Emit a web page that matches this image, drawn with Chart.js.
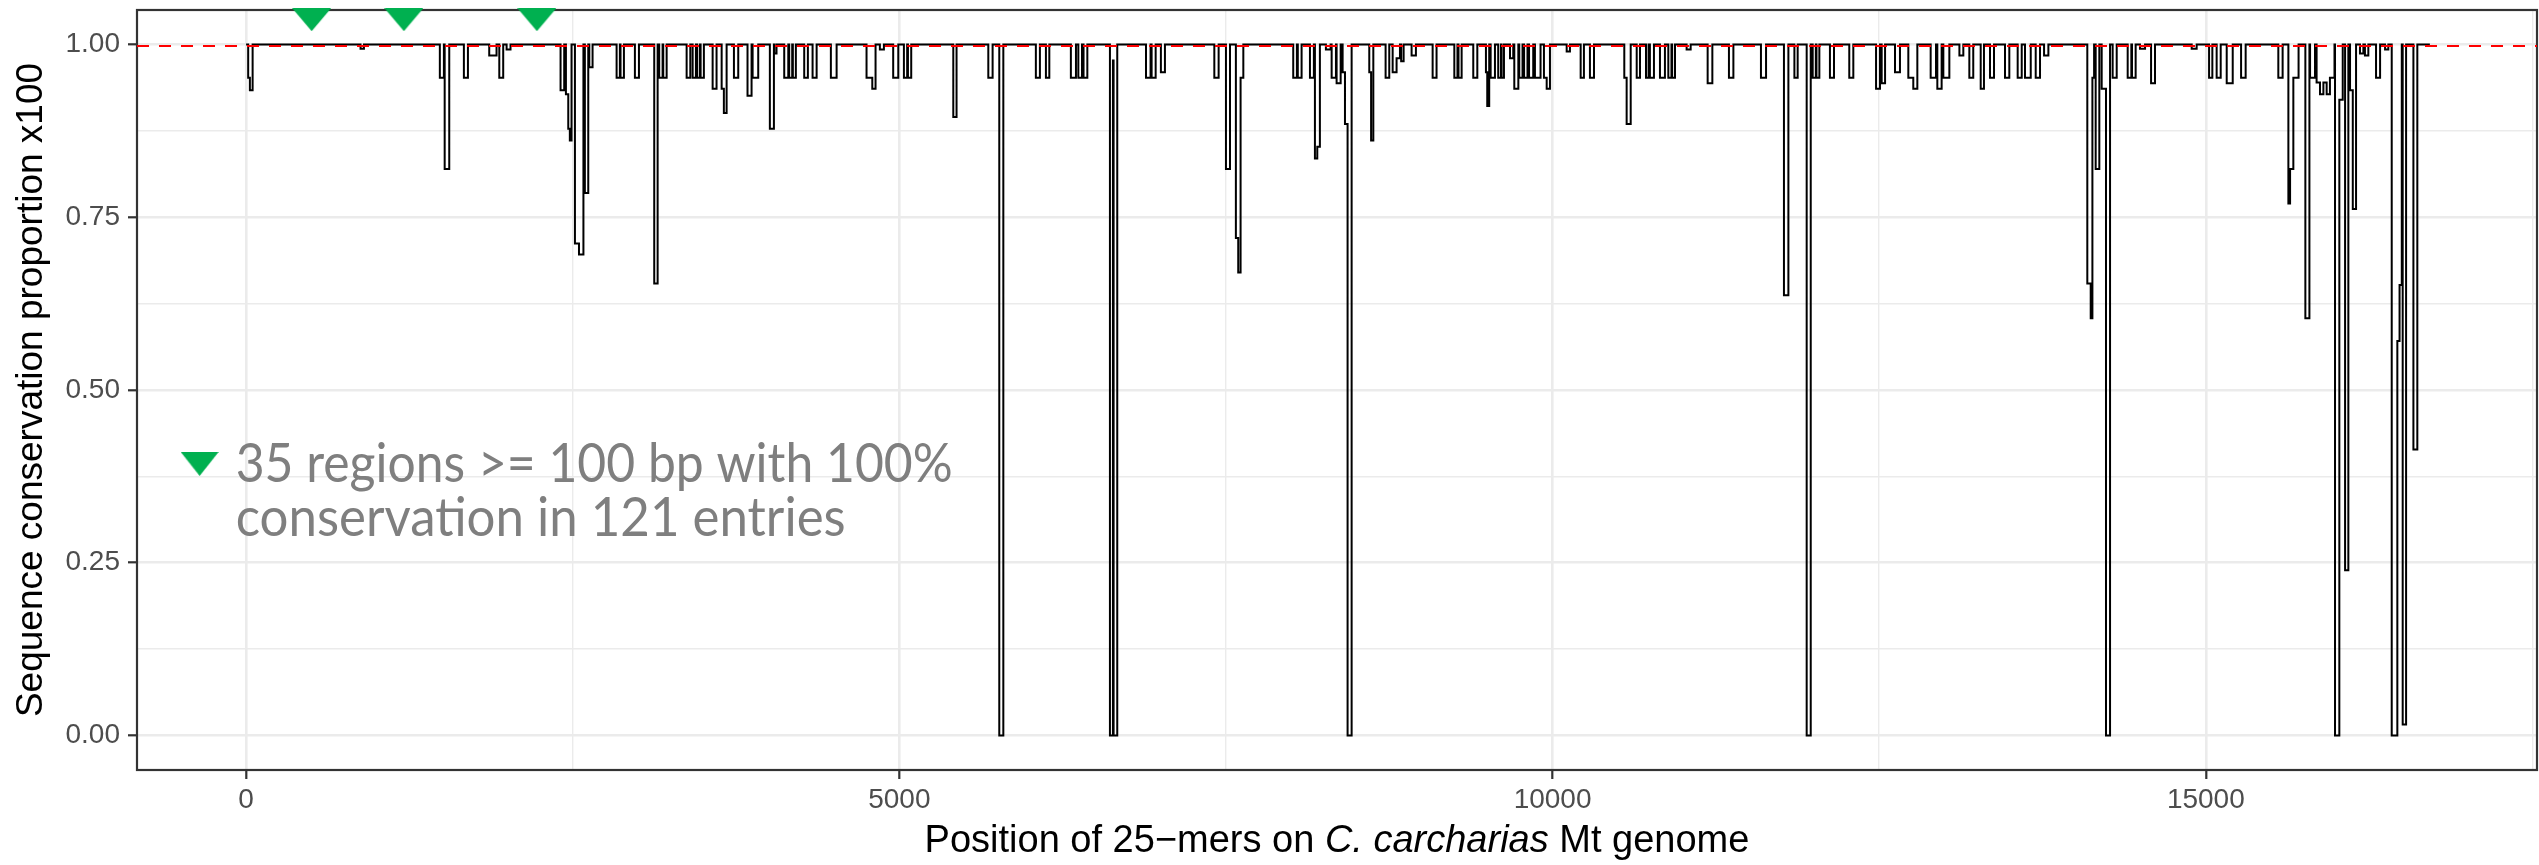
<!DOCTYPE html>
<html>
<head>
<meta charset="utf-8">
<script src="https://cdn.jsdelivr.net/npm/chart.js@4.4.1/dist/chart.umd.min.js"></script>
<style>
  html, body { margin: 0; padding: 0; background: #fff; }
  #wrap { width: 2539px; height: 865px; }
</style>
</head>
<body>
<div id="wrap"><canvas id="chart" width="2539" height="865"></canvas></div>
<script>
/* --------- データ --------- */
// 配列の範囲（bp）
const seqStart = 0;
const seqEnd = 16715;
// 保存率が1.0（100%）のときの値
const fullValue = 1;
// 赤い破線（保存率100%）の位置
const thresholdY = 0.998;

// 保存率が下がる区間：開始位置・終了位置・値
const dipStart = [
  16, 29, 876, 1483, 1520, 1667, 1861, 1938, 1994, 2407, 2448, 2466, 2478, 2517, 2548, 2593, 2627,
  2836, 2866, 2976, 3124, 3162, 3193, 3372, 3418, 3453, 3479, 3571, 3640, 3657, 3734, 3838, 3877,
  4009, 4043, 4119, 4157, 4185, 4272, 4336, 4476, 4749, 4793, 4851, 4953, 5035, 5066, 5413, 5681,
  5765, 6045, 6122, 6313, 6370, 6410, 6612, 6635, 6640, 6888, 6931, 7002, 7411, 7500, 7576, 7594,
  7612, 8015, 8050, 8143, 8181, 8199, 8265, 8309, 8347, 8393, 8411, 8431, 8597, 8611, 8722, 8776,
  8806, 8841, 8921, 9082, 9248, 9280, 9393, 9490, 9500, 9526, 9584, 9610, 9674, 9707, 9745, 9782,
  9820, 9865, 9934, 9955, 10108, 10215, 10286, 10549, 10567, 10644, 10715, 10745, 10822, 10886,
  10915, 11026, 11187, 11350, 11595, 11771, 11851, 11945, 11991, 12020, 12123, 12271, 12476, 12519,
  12621, 12723, 12761, 12894, 12945, 12991, 13114, 13190, 13277, 13348, 13463, 13560, 13616, 13698,
  13762, 14093, 14119, 14132, 14157, 14203, 14236, 14287, 14402, 14435, 14496, 14581, 14892, 15025,
  15083, 15160, 15270, 15555, 15632, 15645, 15670, 15762, 15798, 15848, 15874, 15900, 15925, 15950,
  15989, 16022, 16066, 16104, 16125, 16180, 16218, 16303, 16372, 16423, 16466, 16483, 16507, 16589,
];
const dipEnd = [
  29, 50, 902, 1514, 1555, 1698, 1917, 1968, 2024, 2435, 2466, 2478, 2491, 2548, 2582, 2619, 2652,
  2861, 2892, 3007, 3150, 3188, 3219, 3400, 3443, 3474, 3504, 3601, 3657, 3678, 3767, 3869, 3920,
  4040, 4060, 4150, 4180, 4208, 4300, 4367, 4520, 4793, 4818, 4882, 4992, 5060, 5091, 5438, 5714,
  5796, 6076, 6148, 6352, 6398, 6439, 6635, 6640, 6668, 6923, 6962, 7033, 7444, 7531, 7594, 7612,
  7633, 8043, 8079, 8173, 8199, 8219, 8301, 8342, 8378, 8411, 8431, 8462, 8611, 8628, 8750, 8806,
  8832, 8860, 8954, 9112, 9272, 9304, 9424, 9500, 9515, 9559, 9605, 9628, 9699, 9738, 9770, 9808,
  9852, 9908, 9955, 9980, 10133, 10240, 10317, 10567, 10598, 10669, 10735, 10776, 10860, 10910,
  10937, 11057, 11223, 11384, 11634, 11805, 11876, 11976, 12015, 12042, 12154, 12302, 12506, 12545,
  12659, 12761, 12792, 12935, 12978, 13037, 13144, 13220, 13302, 13379, 13496, 13591, 13660, 13731,
  13795, 14119, 14132, 14145, 14185, 14236, 14267, 14318, 14430, 14463, 14535, 14611, 14930, 15050,
  15114, 15206, 15305, 15588, 15645, 15670, 15710, 15793, 15836, 15874, 15900, 15925, 15950, 15985,
  16022, 16048, 16091, 16125, 16150, 16206, 16244, 16334, 16397, 16466, 16483, 16500, 16533, 16619,
];
const dipValue = [
  0.952, 0.934, 0.994, 0.952, 0.82, 0.952, 0.984, 0.952, 0.993, 0.934, 0.928, 0.878, 0.861, 0.712, 0.696, 0.785, 0.967,
  0.952, 0.952, 0.952, 0.654, 0.952, 0.952, 0.952, 0.952, 0.952, 0.952, 0.936, 0.936, 0.901, 0.952, 0.926, 0.952,
  0.878, 0.987, 0.952, 0.952, 0.952, 0.952, 0.952, 0.952, 0.952, 0.936, 0.993, 0.952, 0.952, 0.952, 0.895, 0.952,
  0, 0.952, 0.952, 0.952, 0.952, 0.952, 0, 0.977, 0, 0.952, 0.952, 0.96, 0.952, 0.82, 0.72, 0.67,
  0.952, 0.952, 0.952, 0.952, 0.835, 0.852, 0.993, 0.952, 0.944, 0.96, 0.885, 0, 0.96, 0.861, 0.952, 0.96,
  0.98, 0.976, 0.984, 0.952, 0.952, 0.952, 0.952, 0.96, 0.911, 0.952, 0.952, 0.952, 0.98, 0.936, 0.952, 0.952,
  0.952, 0.952, 0.952, 0.936, 0.99, 0.952, 0.952, 0.952, 0.885, 0.952, 0.952, 0.952, 0.952, 0.952,
  0.952, 0.993, 0.944, 0.952, 0.952, 0.637, 0.952, 0, 0.952, 0.952, 0.952, 0.952, 0.936, 0.944,
  0.96, 0.952, 0.936, 0.952, 0.936, 0.952, 0.984, 0.952, 0.936, 0.952, 0.952, 0.952, 0.952, 0.952,
  0.984, 0.654, 0.604, 0.952, 0.82, 0.936, 0, 0.952, 0.952, 0.952, 0.994, 0.944, 0.994, 0.952,
  0.952, 0.944, 0.952, 0.952, 0.77, 0.82, 0.952, 0.604, 0.952, 0.945, 0.928, 0.945, 0.928, 0.952,
  0, 0.92, 0.239, 0.934, 0.762, 0.987, 0.984, 0.952, 0.993, 0, 0.571, 0.652, 0.016, 0.414,
];

// 100%保存領域のマーカー（上部の緑の三角）
const regionX = [502, 1208, 2226];
const regionY = [1.036, 1.036, 1.036];

// 軸の範囲と目盛り
const xMin = -835;
const xMax = 17535;
const yMin = -0.05;
const yMax = 1.05;
const xTickValues = [0, 2500, 5000, 7500, 10000, 12500, 15000, 17500];
const xTickLabels = ["0", "", "5000", "", "10000", "", "15000", ""];
const yTickValues = [0, 0.125, 0.25, 0.375, 0.5, 0.625, 0.75, 0.875, 1];
const yTickLabels = ["0.00", "", "0.25", "", "0.50", "", "0.75", "", "1.00"];

// 注釈テキスト
const noteLines = ["35 regions >= 100 bp with 100%", "conservation in 121 entries"];
const noteX = -80;
const noteY = 0.367;

/* --------- スタイル --------- */
const baseFont = "'Liberation Sans', Arial, Helvetica, sans-serif";
const gridColor = "#EBEBEB";
const frameColor = "#333333";
const markerColor = "#00B050";
// 注釈の各行の幅（px）
const noteWidths = [717, 610];

/* --------- ヘルパー --------- */
// 区間データから階段状の点列を作る
function buildSteps() {
  const pts = [];
  let prevEnd = seqStart;
  dipStart.forEach((s, i) => {
    if (s > prevEnd) pts.push({ x: prevEnd, y: fullValue });
    pts.push({ x: s, y: dipValue[i] });
    prevEnd = dipEnd[i];
  });
  pts.push({ x: prevEnd, y: fullValue });
  pts.push({ x: seqEnd, y: fullValue });
  return pts;
}

// 下向きの三角マーカー
function makeTriangle(w, h, color) {
  const c = document.createElement("canvas");
  c.width = w;
  c.height = h;
  const g = c.getContext("2d");
  g.fillStyle = color;
  g.beginPath();
  g.moveTo(0, 0);
  g.lineTo(w, 0);
  g.lineTo(w / 2, h);
  g.closePath();
  g.fill();
  return c;
}

const triangleImg = makeTriangle(39, 23, markerColor);

function isMajor(labels, ctx) {
  return !!labels[ctx.index];
}

// 軸の余白を消して描画領域を固定する
function fixSize(prop, size) {
  return (s) => {
    s[prop] = size;
    s.paddingTop = 0;
    s.paddingBottom = 0;
    s.paddingLeft = 0;
    s.paddingRight = 0;
  };
}

/* --------- 枠・タイトル・注釈 --------- */
const framePlugin = {
  id: "frame",
  beforeDatasetsDraw(chart) {
    const { ctx, chartArea: a } = chart;
    ctx.save();
    ctx.strokeStyle = frameColor;
    ctx.lineWidth = 2.2;
    ctx.strokeRect(a.left, a.top, a.right - a.left, a.bottom - a.top);
    ctx.restore();
  },
  afterDraw(chart) {
    const { ctx, chartArea: a, scales } = chart;
    ctx.save();

    // X軸タイトル（種名はイタリック）
    const parts = [
      { t: "Position of 25\u2212mers on ", f: `38px ${baseFont}` },
      { t: "C. carcharias", f: `italic 38px ${baseFont}` },
      { t: " Mt genome", f: `38px ${baseFont}` },
    ];
    let total = 0;
    parts.forEach((p) => {
      ctx.font = p.f;
      p.w = ctx.measureText(p.t).width;
      total += p.w;
    });
    let tx = (a.left + a.right) / 2 - total / 2;
    ctx.fillStyle = "#000";
    ctx.textBaseline = "alphabetic";
    ctx.textAlign = "left";
    parts.forEach((p) => {
      ctx.font = p.f;
      ctx.fillText(p.t, tx, 852);
      tx += p.w;
    });

    // Y軸タイトル
    ctx.save();
    ctx.translate(42, (a.top + a.bottom) / 2);
    ctx.rotate(-Math.PI / 2);
    ctx.font = `37px ${baseFont}`;
    ctx.textAlign = "center";
    ctx.fillText("Sequence conservation proportion x100", 0, 0);
    ctx.restore();

    // 注釈
    const nx = scales.x.getPixelForValue(noteX);
    const ny = scales.y.getPixelForValue(noteY);
    ctx.font = `54px Lato, 'Open Sans', sans-serif`;
    ctx.fillStyle = "#7F7F7F";
    noteLines.forEach((line, i) => {
      const sx = noteWidths[i] / ctx.measureText(line).width;
      ctx.save();
      ctx.translate(nx, ny + i * 54);
      ctx.scale(sx, 1);
      ctx.fillText(line, 0, 0);
      ctx.restore();
    });
    ctx.drawImage(triangleImg, nx - 55, ny - 30, 38, 24);

    ctx.restore();
  },
};

/* --------- グラフ描画 --------- */
const chart = new Chart(document.getElementById("chart"), {
  type: "line",
  data: {
    datasets: [
      {
        label: "regions",
        data: regionX.map((x, i) => ({ x, y: regionY[i] })),
        showLine: false,
        pointStyle: triangleImg,
        pointRadius: 20,
        clip: false,
        order: 0,
      },
      {
        label: "threshold",
        data: [
          { x: xMin, y: thresholdY },
          { x: xMax, y: thresholdY },
        ],
        borderColor: "#FF0000",
        borderWidth: 2,
        borderDash: [12, 10],
        pointRadius: 0,
        order: 1,
      },
      {
        label: "conservation",
        data: buildSteps(),
        borderColor: "#000000",
        borderWidth: 2,
        stepped: "before",
        pointRadius: 0,
        order: 2,
      },
    ],
  },
  options: {
    responsive: false,
    animation: false,
    devicePixelRatio: 1,
    layout: { autoPadding: false, padding: { top: 10, right: 2, left: 0, bottom: 0 } },
    plugins: { legend: { display: false }, tooltip: { enabled: false } },
    scales: {
      x: {
        type: "linear",
        min: xMin,
        max: xMax,
        afterBuildTicks: (s) => {
          s.ticks = xTickValues.map((v) => ({ value: v }));
        },
        afterFit: fixSize("height", 95),
        ticks: {
          autoSkip: false,
          maxRotation: 0,
          padding: 4,
          color: "#4D4D4D",
          font: { family: baseFont, size: 28 },
          callback: (v, i) => xTickLabels[i],
        },
        grid: {
          color: gridColor,
          lineWidth: (c) => (isMajor(xTickLabels, c) ? 2.6 : 1.4),
          tickLength: 9,
          tickWidth: 2.2,
          tickColor: (c) => (isMajor(xTickLabels, c) ? frameColor : "rgba(0,0,0,0)"),
        },
        border: { display: false },
      },
      y: {
        type: "linear",
        min: yMin,
        max: yMax,
        afterBuildTicks: (s) => {
          s.ticks = yTickValues.map((v) => ({ value: v }));
        },
        afterFit: fixSize("width", 137),
        ticks: {
          autoSkip: false,
          padding: 8,
          color: "#4D4D4D",
          font: { family: baseFont, size: 28 },
          callback: (v, i) => yTickLabels[i],
        },
        grid: {
          color: gridColor,
          lineWidth: (c) => (isMajor(yTickLabels, c) ? 2.6 : 1.4),
          tickLength: 9,
          tickWidth: 2.2,
          tickColor: (c) => (isMajor(yTickLabels, c) ? frameColor : "rgba(0,0,0,0)"),
        },
        border: { display: false },
      },
    },
  },
  plugins: [framePlugin],
});
</script>
</body>
</html>
